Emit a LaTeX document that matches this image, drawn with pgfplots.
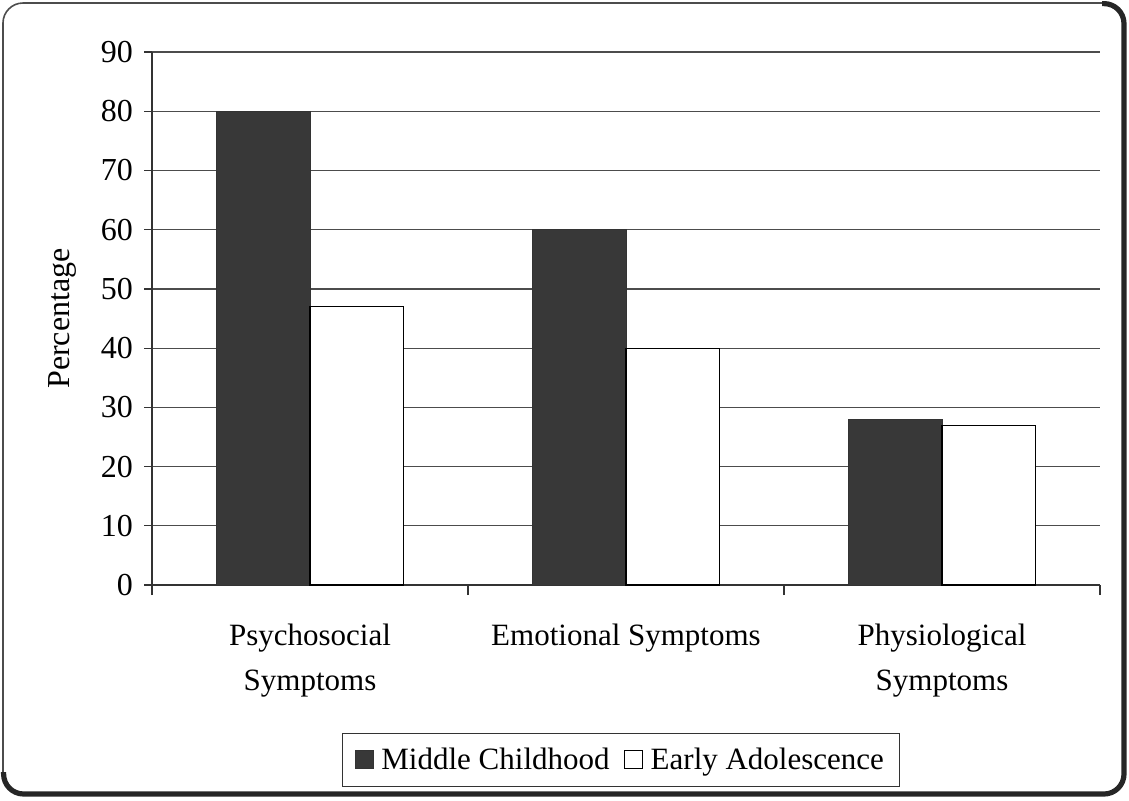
\documentclass[border=0pt]{standalone}
\usepackage{pgfplots}
\pgfplotsset{compat=1.18}
\usepackage{fontspec}
\setmainfont{Liberation Serif}
\begin{document}
\begin{tikzpicture}
\path[use as bounding box] (0,0) rectangle (564.5pt,-400pt);
% frame
\draw[black!70, line width=0.8pt, rounded corners=10pt] (1.5pt,-1.5pt) rectangle (562pt,-397pt);
\draw[black!85, line width=2.6pt, rounded corners=10pt] (551pt,-1.8pt) -- (562pt,-1.8pt) -- (562pt,-397pt) -- (1.8pt,-397pt) -- (1.8pt,-386pt);
\begin{axis}[
  at={(76pt,-292.5pt)}, anchor=south west,
  scale only axis, width=474pt, height=266.5pt,
  ymin=0, ymax=90, ytick={0,10,...,90},
  xmin=-0.5, xmax=2.5,
  axis x line=bottom, axis y line=left,
  axis line style={-, black!80, line width=0.6pt},
  ymajorgrids, grid style={black!70, line width=0.6pt},
  y tick style={black!80, line width=0.6pt},
  tick align=outside, major tick length=4pt,
  xtick={0,1,2}, major x tick style={draw=none},
  xticklabels={{Psychosocial\\Symptoms},{Emotional Symptoms},{Physiological\\Symptoms}},
  minor xtick={-0.5,0.5,1.5,2.5}, minor tick length=5pt,
  minor x tick style={black!80, line width=0.6pt},
  x tick label style={align=center, font=\fontsize{15.5}{22.5}\selectfont, yshift=-12pt},
  y tick label style={font=\fontsize{16}{19}\selectfont, xshift=-2pt},
  /pgf/number format/assume math mode=true,
  ylabel={Percentage},
  every axis y label/.style={at={(-0.094,0.5)}, rotate=90, anchor=center, font=\fontsize{16}{19}\selectfont},
  ybar=0pt, bar width=0.295,
  legend columns=2,
  legend style={at={(0.495,-0.328)}, anchor=center, draw=black!80, line width=0.5pt,
    font=\fontsize{15.5}{18}\selectfont, inner xsep=6pt, inner ysep=5pt,
    /tikz/every even column/.append style={column sep=5pt}},
  legend image code/.code={\draw[#1, line width=0.5pt] (0pt,-4.5pt) rectangle (9pt,4.5pt); \path (11pt,0pt);},
]
\addplot[fill=black!78, draw=black!80, line width=0.4pt] coordinates {(0,80) (1,60) (2,28)};
\addplot[fill=white, draw=black, line width=0.6pt] coordinates {(0,47) (1,40) (2,27)};
\legend{Middle Childhood, Early Adolescence}
\end{axis}
\end{tikzpicture}
\end{document}
